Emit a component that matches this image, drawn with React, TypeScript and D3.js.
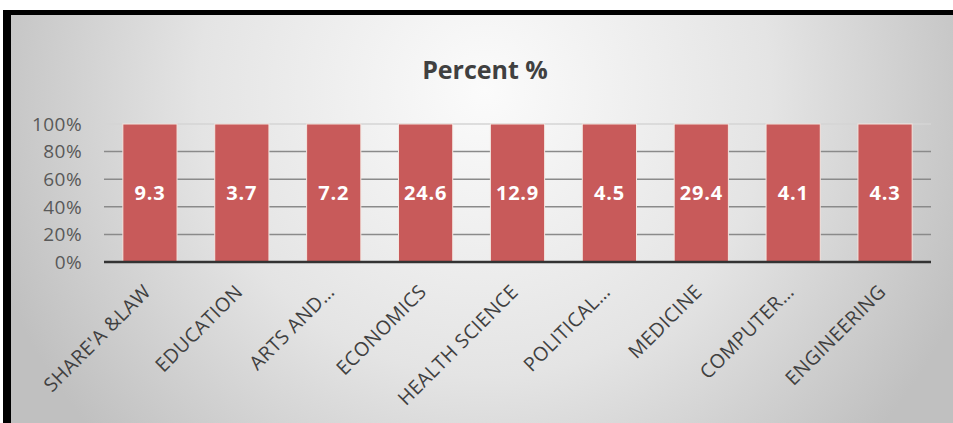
import React, { useEffect } from "react";
import * as d3 from "d3";

const categories = [
  "SHARE'A &LAW",
  "EDUCATION",
  "ARTS AND…",
  "ECONOMICS",
  "HEALTH SCIENCE",
  "POLITICAL…",
  "MEDICINE",
  "COMPUTER…",
  "ENGINEERING",
];
const percentValues = [9.3, 3.7, 7.2, 24.6, 12.9, 4.5, 29.4, 4.1, 4.3];
const stackShare = [100, 100, 100, 100, 100, 100, 100, 100, 100];
const yTicks = [0, 0.2, 0.4, 0.6, 0.8, 1];
const title = "Percent %";

const W = 953;
const H = 423;
const FONT = "'Open Sans', Lato, 'DejaVu Sans', sans-serif";

export default function App() {
  useEffect(() => {
    document.body.style.margin = "0";
    document.body.style.overflow = "hidden";
  }, []);

  const x = d3
    .scaleBand<string>()
    .domain(categories)
    .range([104, 931])
    .paddingInner(0.41)
    .paddingOuter(0.205);
  const y = d3.scaleLinear().domain([0, 1]).range([262, 124]);
  const fmt = d3.format(".0%");

  return (
    <svg
      width={W}
      height={H}
      style={{ position: "absolute", left: 0, top: 0, display: "block" }}
      fontFamily={FONT}
    >
      <defs>
        <radialGradient id="bg" gradientUnits="userSpaceOnUse" cx={485} cy={90} r={520}>
          <stop offset="0" stopColor="#fbfbfb" />
          <stop offset="0.55" stopColor="#e4e4e4" />
          <stop offset="1" stopColor="#c0c0c0" />
        </radialGradient>
      </defs>
      <rect x={0} y={0} width={W} height={H} fill="#ffffff" />
      <rect x={10} y={12} width={W - 10} height={H - 12} fill="url(#bg)" />

      {/* gridlines */}
      {yTicks.slice(1).map((t) => (
        <line
          key={t}
          x1={104}
          x2={931}
          y1={y(t)}
          y2={y(t)}
          stroke={t === 1 ? "#d4d4d4" : "#8a8a8a"}
          strokeWidth={1.5}
        />
      ))}

      {/* bars */}
      {categories.map((c, i) => (
        <rect
          key={c}
          x={x(c)!}
          y={y(stackShare[i] / 100)}
          width={x.bandwidth()}
          height={y(0) - y(stackShare[i] / 100)}
          fill="#c85a5a"
          stroke="#f3e6e0"
          strokeWidth={1}
        />
      ))}

      {/* value labels */}
      {categories.map((c, i) => (
        <text
          key={c}
          x={x(c)! + x.bandwidth() / 2}
          y={y(stackShare[i] / 200)}
          dy="0.36em"
          textAnchor="middle"
          fill="#ffffff"
          fontWeight="bold"
          fontSize={20}
          letterSpacing={0.8}
        >
          {percentValues[i]}
        </text>
      ))}

      {/* axis line */}
      <line x1={104} x2={931} y1={y(0)} y2={y(0)} stroke="#333333" strokeWidth={2.5} />

      {/* y tick labels */}
      {yTicks.map((t) => (
        <text
          key={t}
          x={82}
          y={y(t)}
          dy="0.36em"
          textAnchor="end"
          fill="#595959"
          fontSize={19}
          letterSpacing={0.4}
        >
          {fmt(t)}
        </text>
      ))}

      {/* x labels */}
      {categories.map((c) => {
        const cx = x(c)! + x.bandwidth() / 2;
        return (
          <text
            key={c}
            transform={`translate(${cx + 2},${293}) rotate(-45)`}
            textAnchor="end"
            fill="#404040"
            fontSize={19.5}
            letterSpacing={0.4}
          >
            {c}
          </text>
        );
      })}

      {/* title */}
      <text x={485} y={79} textAnchor="middle" fill="#404040" fontWeight="bold" fontSize={25}>
        {title}
      </text>

      {/* frame */}
      <rect x={3} y={10} width={W - 3} height={5} fill="#000" />
      <rect x={3} y={10} width={8} height={H - 10} fill="#000" />
    </svg>
  );
}
